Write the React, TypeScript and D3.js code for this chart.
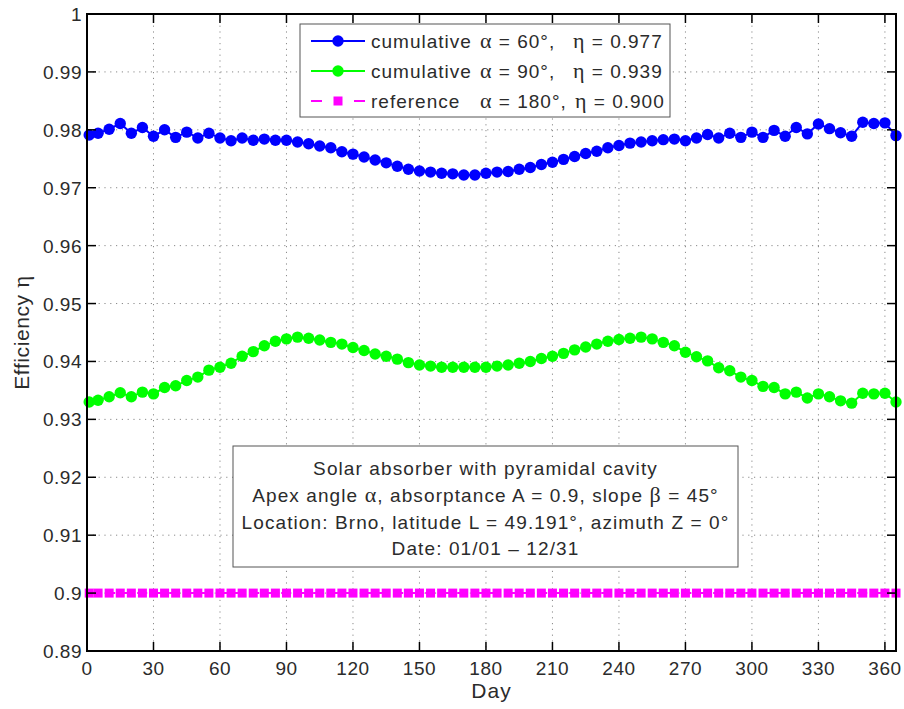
import { scaleLinear, line } from 'd3';

const width = 904;
const height = 709;
const margin = { top: 14, right: 8, bottom: 58, left: 87 };
const innerWidth = width - margin.left - margin.right;
const innerHeight = height - margin.top - margin.bottom;

// day of year for every sample (day 1, then every 5th day)
const days = [1, 5, 10, 15, 20, 25, 30, 35, 40, 45, 50, 55, 60, 65, 70, 75, 80, 85, 90, 95,
  100, 105, 110, 115, 120, 125, 130, 135, 140, 145, 150, 155, 160, 165, 170, 175, 180, 185, 190, 195,
  200, 205, 210, 215, 220, 225, 230, 235, 240, 245, 250, 255, 260, 265, 270, 275, 280, 285, 290, 295,
  300, 305, 310, 315, 320, 325, 330, 335, 340, 345, 350, 355, 360, 365];

const eta60 = [0.9791, 0.9794, 0.9801, 0.9811, 0.9794, 0.9804, 0.9789, 0.9800, 0.9787, 0.9796,
  0.9786, 0.9794, 0.9786, 0.9781, 0.9786, 0.9782, 0.9784, 0.9782, 0.9782, 0.9779,
  0.9776, 0.9772, 0.9769, 0.9762, 0.9758, 0.9753, 0.9748, 0.9743, 0.9737, 0.9732,
  0.9729, 0.9727, 0.9725, 0.9724, 0.9722, 0.9722, 0.9725, 0.9727, 0.9728, 0.9732,
  0.9735, 0.9740, 0.9744, 0.9749, 0.9754, 0.9759, 0.9763, 0.9769, 0.9773, 0.9777,
  0.9779, 0.9781, 0.9783, 0.9784, 0.9781, 0.9786, 0.9792, 0.9786, 0.9794, 0.9787,
  0.9796, 0.9787, 0.9799, 0.9789, 0.9804, 0.9793, 0.9810, 0.9802, 0.9795, 0.9789,
  0.9813, 0.9811, 0.9812, 0.9790];

const eta90 = [0.9330, 0.9333, 0.9339, 0.9346, 0.9339, 0.9347, 0.9344, 0.9355, 0.9358, 0.9367,
  0.9373, 0.9385, 0.9390, 0.9397, 0.9409, 0.9417, 0.9427, 0.9435, 0.9439, 0.9442,
  0.9440, 0.9437, 0.9433, 0.9430, 0.9424, 0.9419, 0.9413, 0.9409, 0.9404, 0.9398,
  0.9394, 0.9392, 0.9390, 0.9390, 0.9390, 0.9390, 0.9390, 0.9392, 0.9394, 0.9397,
  0.9400, 0.9405, 0.9409, 0.9414, 0.9420, 0.9425, 0.9430, 0.9435, 0.9438, 0.9440,
  0.9442, 0.9439, 0.9433, 0.9427, 0.9416, 0.9408, 0.9401, 0.9389, 0.9384, 0.9373,
  0.9367, 0.9357, 0.9355, 0.9344, 0.9347, 0.9337, 0.9344, 0.9339, 0.9332, 0.9328,
  0.9345, 0.9344, 0.9345, 0.9330];

const etaRef = days.map(() => 0.9);

const xTicks = [0, 30, 60, 90, 120, 150, 180, 210, 240, 270, 300, 330, 360];
const yTicks = [0.89, 0.9, 0.91, 0.92, 0.93, 0.94, 0.95, 0.96, 0.97, 0.98, 0.99, 1];

const legendRows = [
  { name: 'cumulative', alpha: '60°,', eta: '0.977', color: '#0000ff', kind: 'circle' },
  { name: 'cumulative', alpha: '90°,', eta: '0.939', color: '#00ff00', kind: 'circle' },
  { name: 'reference', alpha: '180°,', eta: '0.900', color: '#ff00ff', kind: 'square' },
];

const textColor = '#2b2b2b';
const font = 'Liberation Sans, Arial, Helvetica, sans-serif';
const greek = 'Liberation Serif, Times New Roman, serif';

function App() {
  const xScale = scaleLinear().domain([0, 365]).range([0, innerWidth]);
  const yScale = scaleLinear().domain([0.89, 1]).range([innerHeight, 0]);

  const lineGen = line<[number, number]>()
    .x((d) => xScale(d[0]))
    .y((d) => yScale(d[1]));

  const series = [
    { values: eta60, color: '#0000ff', kind: 'circle' },
    { values: eta90, color: '#00ff00', kind: 'circle' },
    { values: etaRef, color: '#ff00ff', kind: 'square' },
  ];

  const grid = (
    <g stroke="#8a8a8a" strokeWidth={1} strokeDasharray="1.2,4.6">
      {xTicks.slice(1).map((t) => (
        <line key={'gx' + t} x1={xScale(t)} x2={xScale(t)} y1={0} y2={innerHeight} />
      ))}
      {yTicks.slice(1).map((t) => (
        <line key={'gy' + t} x1={0} x2={innerWidth} y1={yScale(t)} y2={yScale(t)} />
      ))}
    </g>
  );

  const tickLen = 9;
  const ticks = (
    <g stroke="#000" strokeWidth={1.5}>
      {xTicks.map((t) => (
        <g key={'tx' + t}>
          <line x1={xScale(t)} x2={xScale(t)} y1={innerHeight} y2={innerHeight - tickLen} />
          <line x1={xScale(t)} x2={xScale(t)} y1={0} y2={tickLen} />
        </g>
      ))}
      {yTicks.map((t) => (
        <g key={'ty' + t}>
          <line x1={0} x2={tickLen} y1={yScale(t)} y2={yScale(t)} />
          <line x1={innerWidth} x2={innerWidth - tickLen} y1={yScale(t)} y2={yScale(t)} />
        </g>
      ))}
    </g>
  );

  const marks = series.map((s, si) => {
    const pts: [number, number][] = days.map((d, i) => [d, s.values[i]]);
    return (
      <g key={si}>
        <path
          d={lineGen(pts) || ''}
          fill="none"
          stroke={s.color}
          strokeWidth={2}
          strokeDasharray={s.kind === 'square' ? '10,6' : undefined}
        />
        {pts.map((p, i) =>
          s.kind === 'circle' ? (
            <circle key={i} cx={xScale(p[0])} cy={yScale(p[1])} r={5.7} fill={s.color} />
          ) : (
            <rect key={i} x={xScale(p[0]) - 4.5} y={yScale(p[1]) - 4.5} width={9} height={9} fill={s.color} />
          )
        )}
      </g>
    );
  });

  // legend (in page coordinates)
  const lg = { x: 300, y: 24, w: 370, h: 93 };
  const legend = (
    <g fontFamily={font} fontSize={19} fill={textColor} style={{ letterSpacing: '1px' }}>
      <rect x={lg.x} y={lg.y} width={lg.w} height={lg.h} fill="#fff" stroke="#555" strokeWidth={1} />
      {legendRows.map((r, i) => {
        const cy = 41 + i * 30;
        return (
          <g key={i}>
            <line
              x1={311}
              x2={365}
              y1={cy}
              y2={cy}
              stroke={r.color}
              strokeWidth={2}
              strokeDasharray={r.kind === 'square' ? '11,32' : undefined}
            />
            {r.kind === 'circle' ? (
              <circle cx={338} cy={cy} r={5.7} fill={r.color} />
            ) : (
              <rect x={333.5} y={cy - 4.5} width={9} height={9} fill={r.color} />
            )}
            <text x={371} y={cy + 7}>{r.name}</text>
            <text x={480} y={cy + 7}>
              <tspan fontFamily={greek} fontSize={22}>α</tspan> = {r.alpha}
            </text>
            <text x={i === 2 ? 575 : 573} y={cy + 7}>
              <tspan fontFamily={greek} fontSize={22}>η</tspan> = {r.eta}
            </text>
          </g>
        );
      })}
    </g>
  );

  const ann = { x: 233, y: 446, w: 505, h: 121 };
  const cx = ann.x + ann.w / 2;
  const annotation = (
    <g fontFamily={font} fontSize={19} fill={textColor} textAnchor="middle" style={{ letterSpacing: '1.1px' }}>
      <rect x={ann.x} y={ann.y} width={ann.w} height={ann.h} fill="#fff" stroke="#555" strokeWidth={1} />
      <text x={cx} y={475}>Solar absorber with pyramidal cavity</text>
      <text x={cx} y={502}>
        Apex angle <tspan fontFamily={greek} fontSize={22}>α</tspan>, absorptance A = 0.9, slope{' '}
        <tspan fontFamily={greek} fontSize={22}>β</tspan> = 45°
      </text>
      <text x={cx} y={529}>Location: Brno, latitude L = 49.191°, azimuth Z = 0°</text>
      <text x={cx} y={555}>Date: 01/01 – 12/31</text>
    </g>
  );

  return (
    <svg width={width} height={height} style={{ position: 'absolute', left: 0, top: 0, background: '#fff' }}>
      <rect width={width} height={height} fill="#fff" />
      <g transform={`translate(${margin.left},${margin.top})`}>
        {grid}
        {marks}
        {ticks}
        <rect x={0} y={0} width={innerWidth} height={innerHeight} fill="none" stroke="#000" strokeWidth={2} />
        <g fontFamily={font} fontSize={19} fill={textColor} style={{ letterSpacing: '0.5px' }}>
          {xTicks.map((t) => (
            <text key={'lx' + t} x={xScale(t)} y={innerHeight + 24} textAnchor="middle">
              {t}
            </text>
          ))}
          {yTicks.map((t) => (
            <text key={'ly' + t} x={-5} y={yScale(t) + 7} textAnchor="end">
              {String(+t.toFixed(2))}
            </text>
          ))}
        </g>
        <text x={innerWidth / 2} y={innerHeight + 47} textAnchor="middle" fontSize={21} fill={textColor} fontFamily={font} style={{ letterSpacing: '1px' }}>
          Day
        </text>
        <text
          transform={`translate(${-58},${innerHeight / 2}) rotate(-90)`}
          textAnchor="middle"
          fontSize={21}
          fill={textColor}
          fontFamily={font}
          style={{ letterSpacing: '0.6px' }}
        >
          Efficiency <tspan fontFamily={greek} fontSize={23}>η</tspan>
        </text>
      </g>
      {legend}
      {annotation}
    </svg>
  );
}

export default App;
